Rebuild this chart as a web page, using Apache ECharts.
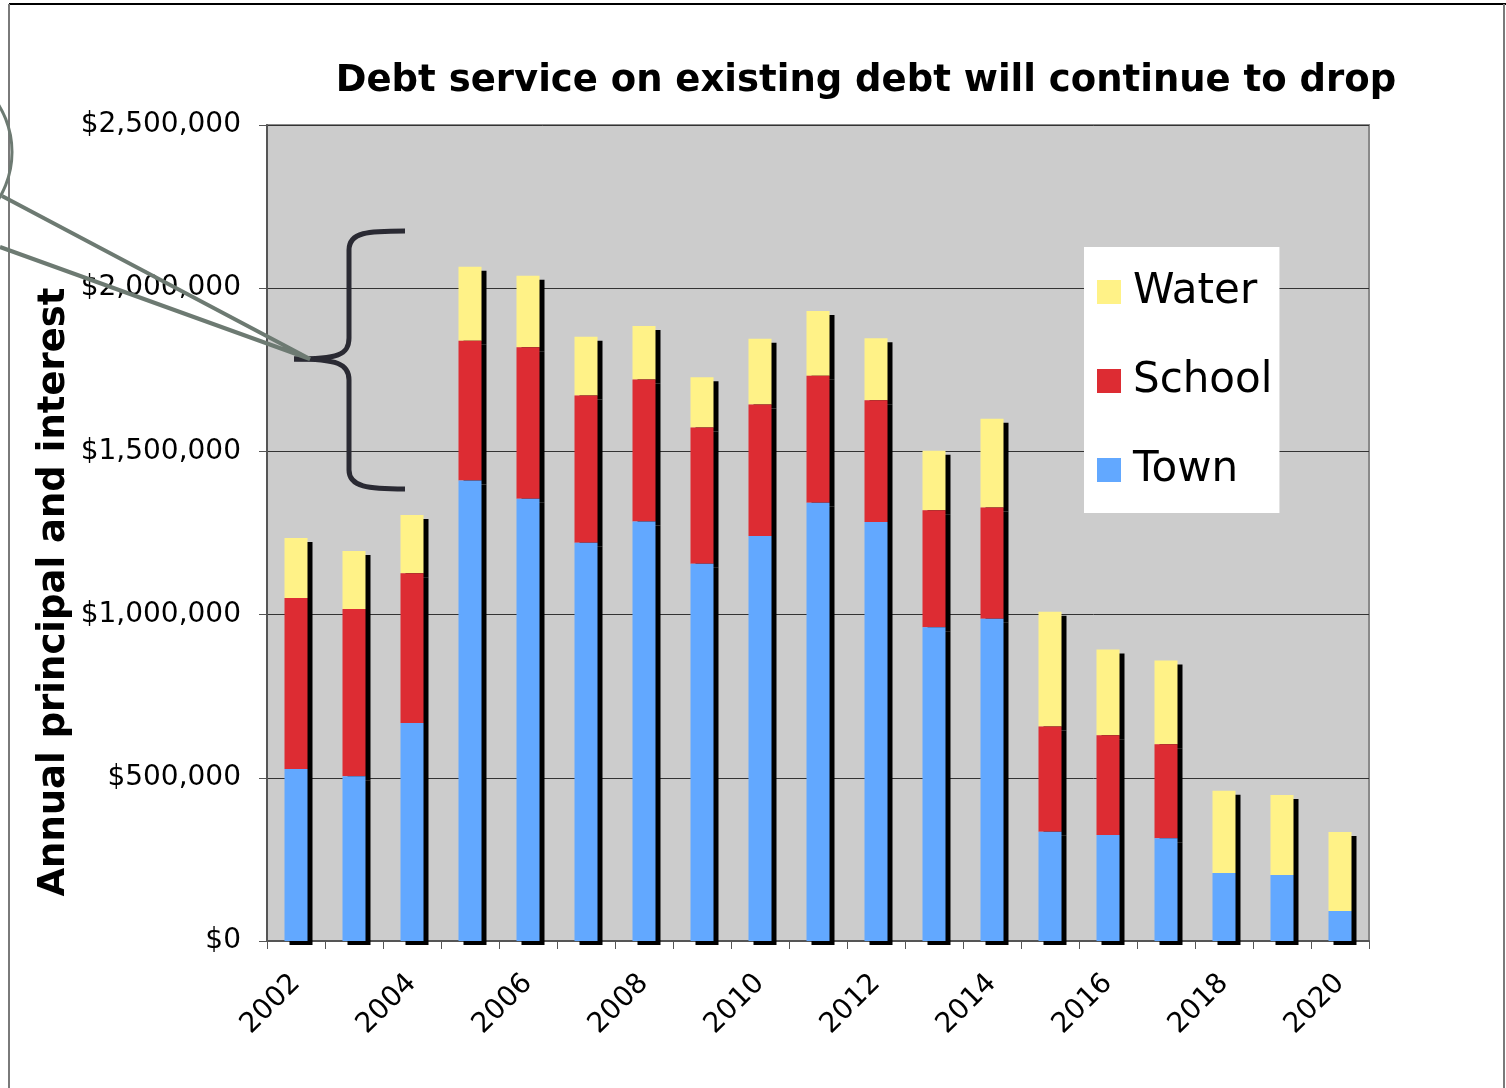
<!DOCTYPE html>
<html>
<head>
<meta charset="utf-8">
<title>Debt service on existing debt</title>
<script src="https://cdn.jsdelivr.net/npm/echarts@6/dist/echarts.min.js"></script>
<style>
  html, body { margin: 0; padding: 0; background: #ffffff; }
  #chart { width: 1506px; height: 1088px; }
</style>
</head>
<body>
<div id="chart"></div>
<script>
// Fiscal years on the category axis
const years = ['2002','2003','2004','2005','2006','2007','2008','2009','2010',
               '2011','2012','2013','2014','2015','2016','2017','2018','2019','2020'];

// Annual principal and interest, dollars, by fund
const town   = [527000, 505000, 668000, 1411000, 1355000, 1220000, 1285000, 1156000, 1241000,
                1343000, 1284000, 961000, 987000, 335000, 325000, 315000, 208000, 202000, 92000];
const school = [524000, 512000, 459000, 428000, 464000, 451000, 435000, 417000, 403000,
                389000, 373000, 359000, 341000, 322000, 305000, 288000, 0, 0, 0];
const water  = [184000, 178000, 178000, 227000, 219000, 180000, 164000, 154000, 201000,
                198000, 190000, 182000, 272000, 352000, 263000, 256000, 252000, 245000, 242000];

// Value axis scale
const yMax = 2500000;
const yStep = 500000;

const FONT = 'DejaVu Sans';
const COLORS = { Water: '#FFF287', School: '#DD2C33', Town: '#62A8FF' };

function money(v) {
  return '$' + Math.round(v).toLocaleString('en-US');
}

function barSeries(name, values, z) {
  return {
    name: name,
    type: 'bar',
    stack: 'total',
    data: values,
    barWidth: 23,
    z: z,
    itemStyle: {
      color: COLORS[name],
      shadowColor: '#000000',
      shadowBlur: 0,
      shadowOffsetX: 5,
      shadowOffsetY: 4
    }
  };
}

// Brace pieces: curves and straight runs
const BRACE = { stroke: '#2a2a33', lineWidth: 5, fill: 'none' };
function curve(x1, y1, cpx1, cpy1, cpx2, cpy2, x2, y2) {
  return { type: 'bezierCurve', z: 19,
    shape: { x1: x1, y1: y1, cpx1: cpx1, cpy1: cpy1, cpx2: cpx2, cpy2: cpy2, x2: x2, y2: y2 },
    style: BRACE };
}
function seg(x1, y1, x2, y2, style, z) {
  return { type: 'line', z: z, shape: { x1: x1, y1: y1, x2: x2, y2: y2 }, style: style };
}

const chart = echarts.init(document.getElementById('chart'), null, { renderer: 'canvas' });

chart.setOption({
  animation: false,
  backgroundColor: '#ffffff',
  textStyle: { fontFamily: FONT },
  title: {
    text: 'Debt service on existing debt will continue to drop',
    left: 861,
    textAlign: 'center',
    top: 58,
    textStyle: { fontFamily: FONT, fontSize: 37, fontWeight: 'bold', color: '#000' }
  },
  legend: {
    orient: 'vertical',
    left: 1084,
    top: 247,
    backgroundColor: '#ffffff',
    padding: [24, 7, 22, 13],
    itemWidth: 24,
    itemHeight: 24,
    itemGap: 47,
    icon: 'rect',
    data: ['Water', 'School', 'Town'],
    textStyle: { fontFamily: FONT, fontSize: 42, lineHeight: 42, color: '#000', padding: [0, 0, 0, 7] }
  },
  grid: {
    left: 267,
    right: 137,
    top: 125,
    bottom: 147,
    show: true,
    backgroundColor: '#CCCCCC',
    borderColor: '#8a8a8a',
    borderWidth: 2
  },
  xAxis: {
    type: 'category',
    data: years,
    boundaryGap: true,
    axisLine: { show: true, lineStyle: { color: '#555', width: 2 } },
    axisTick: { show: true, interval: 0, length: 8, inside: false, lineStyle: { color: '#555', width: 1 } },
    axisLabel: {
      interval: 1,
      rotate: 45,
      margin: 38,
      fontFamily: FONT,
      fontSize: 28,
      color: '#000'
    }
  },
  yAxis: {
    type: 'value',
    min: 0,
    max: yMax,
    interval: yStep,
    axisLine: { show: true, lineStyle: { color: '#555', width: 2 } },
    axisTick: { show: true, length: 8, lineStyle: { color: '#555', width: 1 } },
    axisLabel: {
      margin: 26,
      fontFamily: FONT,
      fontSize: 28,
      color: '#000',
      formatter: money
    },
    splitLine: { show: true, lineStyle: { color: '#333', width: 1 } }
  },
  series: [
    barSeries('Town', town, 4),
    barSeries('School', school, 3),
    barSeries('Water', water, 2)
  ],
  graphic: [
    // value axis title
    { type: 'text', z: 5, x: 54, y: 592, rotation: Math.PI / 2,
      style: { text: 'Annual principal and interest', fontFamily: FONT, fontSize: 37, fontWeight: 'bold',
               fill: '#000', textAlign: 'center', textVerticalAlign: 'middle' } },
    // page frame
    seg(9, 4, 1506, 4, { stroke: '#000', lineWidth: 2 }, 10),
    seg(9, 4, 9, 1088, { stroke: '#7a7a7a', lineWidth: 2 }, 10),
    seg(1504, 4, 1504, 1088, { stroke: '#7a7a7a', lineWidth: 2 }, 10),
    // callout bubble edge and its pointer
    { type: 'circle', z: 20, shape: { cx: -78, cy: 152, r: 90 }, style: { fill: 'none', stroke: '#6d7a72', lineWidth: 3 } },
    { type: 'polyline', z: 20, shape: { points: [[2, 196], [310, 359], [0, 247]] },
      style: { fill: 'none', stroke: '#6d7a72', lineWidth: 4, lineJoin: 'miter' } },
    // brace spanning the peak years
    curve(405, 231, 368, 231, 349, 232, 349, 250),
    seg(349, 250, 349, 338, BRACE, 19),
    curve(349, 338, 349, 355, 338, 359, 294, 359),
    curve(294, 359, 338, 359, 349, 364, 349, 380),
    seg(349, 380, 349, 470, BRACE, 19),
    curve(349, 470, 349, 487, 368, 489, 405, 489)
  ]
});
</script>
</body>
</html>
